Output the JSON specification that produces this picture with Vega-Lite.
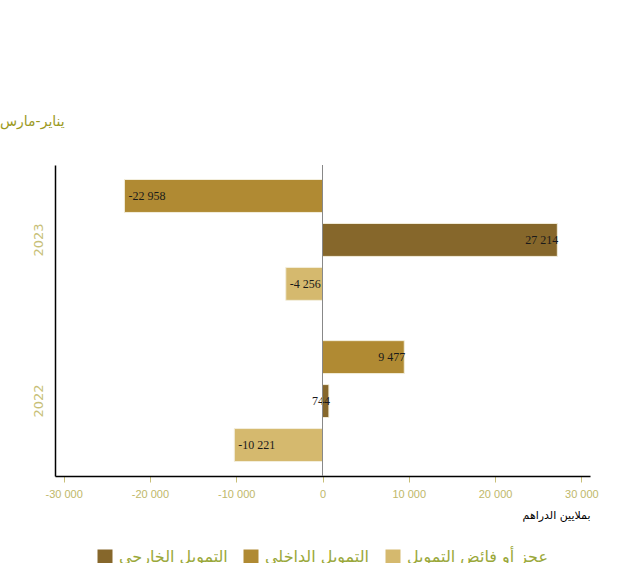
{
  "$schema": "https://vega.github.io/schema/vega-lite/v6.json",
  "autosize": "none",
  "width": 535,
  "height": 311,
  "padding": {"left": 55, "top": 165, "right": 51, "bottom": 87},
  "background": "white",
  "config": {
    "locale": {"number": {"decimal": ".", "thousands": " ", "grouping": [3], "currency": ["", ""], "minus": "-"}},
    "view": {"stroke": null},
    "font": "Liberation Sans"
  },
  "title": {
    "text": "يناير-مارس",
    "anchor": "start",
    "frame": "group",
    "dx": -55,
    "offset": 36,
    "fontSize": 14,
    "fontWeight": "normal",
    "color": "#9C9A1E",
    "font": "DejaVu Sans"
  },
  "data": {
    "values": [
      {"year": "2023", "type": "التمويل الداخلي", "value": -22958},
      {"year": "2023", "type": "التمويل الخارجي", "value": 27214},
      {"year": "2023", "type": "عجز أو فائض التمويل", "value": -4256},
      {"year": "2022", "type": "التمويل الداخلي", "value": 9477},
      {"year": "2022", "type": "التمويل الخارجي", "value": 744},
      {"year": "2022", "type": "عجز أو فائض التمويل", "value": -10221}
    ]
  },
  "encoding": {
    "y": {
      "field": "year", "type": "nominal", "sort": "descending",
      "scale": {"paddingInner": 0.07, "paddingOuter": 0},
      "axis": {
        "title": null, "domainColor": "#000000", "domainWidth": 1.5, "ticks": false,
        "labelAngle": -90, "labelColor": "#C8BF78", "labelFontSize": 13, "labelPadding": 10,
        "labelAlign": "center", "labelBaseline": "bottom", "labelFont": "DejaVu Sans"
      }
    },
    "yOffset": {
      "field": "type", "type": "nominal",
      "sort": ["التمويل الداخلي", "التمويل الخارجي", "عجز أو فائض التمويل"],
      "scale": {"paddingInner": 0.25, "paddingOuter": 0.33}
    }
  },
  "layer": [
    {
      "mark": {"type": "bar", "stroke": "#F3EEDC", "strokeWidth": 1},
      "encoding": {
        "x": {
          "field": "value", "type": "quantitative",
          "scale": {"domain": [-31000, 31000], "nice": false, "zero": false},
          "axis": {
            "values": [-30000, -20000, -10000, 0, 10000, 20000, 30000],
            "format": ",d", "grid": false, "domainColor": "#000000", "domainWidth": 1.5,
            "tickColor": "#C8BF78", "tickSize": 6, "labelColor": "#C0B86A", "labelFontSize": 11,
            "labelPadding": 6,
            "title": "بملايين الدراهم", "titleAnchor": "end", "titleAlign": "right",
            "titleFontSize": 11, "titleFontWeight": "normal", "titleColor": "#000000",
            "titlePadding": 10, "titleFont": "DejaVu Sans"
          }
        },
        "color": {
          "field": "type", "type": "nominal",
          "scale": {
            "domain": ["التمويل الخارجي", "التمويل الداخلي", "عجز أو فائض التمويل"],
            "range": ["#86672B", "#B08A33", "#D5B96E"]
          },
          "legend": {
            "orient": "none", "legendX": 42, "legendY": 384,
            "direction": "horizontal", "title": null,
            "symbolType": "square", "symbolSize": 225, "symbolStrokeWidth": 0,
            "labelFontSize": 16, "labelColor": "#9AA83A", "labelFont": "DejaVu Sans",
            "columnPadding": 15, "labelOffset": 6
          }
        }
      }
    },
    {
      "transform": [{"filter": "datum.value < 0"}],
      "mark": {"type": "text", "align": "left", "dx": 4, "font": "Liberation Serif", "fontSize": 12, "color": "#1a1a1a"},
      "encoding": {
        "x": {"field": "value", "type": "quantitative"},
        "text": {"field": "value", "type": "quantitative", "format": ",d"}
      }
    },
    {
      "transform": [{"filter": "datum.value >= 0"}],
      "mark": {"type": "text", "align": "right", "dx": 1, "font": "Liberation Serif", "fontSize": 12, "color": "#1a1a1a"},
      "encoding": {
        "x": {"field": "value", "type": "quantitative"},
        "text": {"field": "value", "type": "quantitative", "format": ",d"}
      }
    },
    {
      "data": {"values": [{"z": 0}]},
      "mark": {"type": "rule", "color": "#888888", "strokeWidth": 1},
      "encoding": {
        "x": {"field": "z", "type": "quantitative"},
        "y": {"value": 0},
        "y2": {"value": 311},
        "yOffset": null
      }
    }
  ]
}
